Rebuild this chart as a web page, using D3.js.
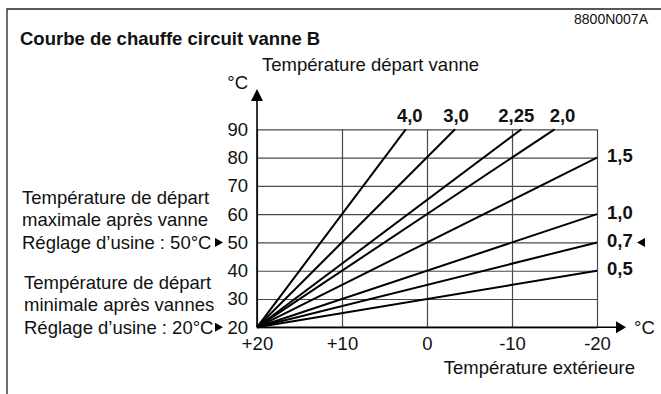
<!DOCTYPE html>
<html>
<head>
<meta charset="utf-8">
<script src="https://cdn.jsdelivr.net/npm/d3@7"></script>
<style>
  html, body { margin: 0; padding: 0; background: #fff; }
  svg { display: block; }
  text { font-family: "Liberation Sans", Arial, Helvetica, sans-serif; fill: #111; }
</style>
</head>
<body>
<svg id="chart" width="661" height="394"></svg>
<script>
// Outdoor temperature axis (°C), reversed: warm on the left, cold on the right
const outdoorTicks = [20, 10, 0, -10, -20];
const outdoorTickLabels = ["+20", "+10", "0", "-10", "-20"];
// Flow temperature axis (°C)
const flowTicks = [20, 30, 40, 50, 60, 70, 80, 90];

// Heating curves: all start at (+20 °C outdoor, 20 °C flow)
const curveStart = [20, 20];
const curveNames = ["4,0", "3,0", "2,25", "2,0", "1,5", "1,0", "0,7", "0,5"];
const curveEndOutdoor = [2.5, -3.3, -11.1, -15, -20, -20, -20, -20];
const curveEndFlow = [90, 90, 90, 90, 80, 60, 50, 40];

const FS = 18.5;
const svg = d3.select("#chart");

const x = d3.scaleLinear().domain([20, -20]).range([257, 597]);
const y = d3.scaleLinear().domain([20, 90]).range([327.3, 129.3]);

// Partial frame (top and left edges)
svg.append("path")
  .attr("d", "M7,394 V9 H661")
  .attr("fill", "none")
  .attr("stroke", "#222")
  .attr("stroke-width", 1.3);

// Title and reference code
svg.append("text").attr("x", 20).attr("y", 45)
  .attr("font-size", FS).attr("font-weight", "bold")
  .text("Courbe de chauffe circuit vanne B");
svg.append("text").attr("x", 648).attr("y", 24)
  .attr("font-size", 14).attr("text-anchor", "end")
  .text("8800N007A");

// Grid + tick labels from the axes
const gridColor = "#4a4a4a";
const yAxis = d3.axisLeft(y)
  .tickValues(flowTicks)
  .tickSize(-(x(-20) - x(20)))
  .tickPadding(9);
const gy = svg.append("g").attr("transform", `translate(${x(20)},0)`).call(yAxis);
gy.select(".domain").remove();
gy.selectAll(".tick line").attr("stroke", gridColor).attr("stroke-width", 1.2);
gy.selectAll(".tick text")
  .attr("font-size", FS)
  .attr("font-family", "'Liberation Sans', Arial, Helvetica, sans-serif")
  .attr("fill", "#111");

const xAxis = d3.axisBottom(x)
  .tickValues(outdoorTicks)
  .tickFormat((d, i) => outdoorTickLabels[i])
  .tickSize(-(y(20) - y(90)))
  .tickPadding(10);
const gx = svg.append("g").attr("transform", `translate(0,${y(20)})`).call(xAxis);
gx.select(".domain").remove();
gx.selectAll(".tick line").attr("stroke", gridColor).attr("stroke-width", 1.2);
gx.selectAll(".tick text")
  .attr("font-size", FS)
  .attr("font-family", "'Liberation Sans', Arial, Helvetica, sans-serif")
  .attr("fill", "#111");

// Axis lines with arrowheads
const x0 = x(20), y0 = y(20);
svg.append("line").attr("x1", x0).attr("y1", y0).attr("x2", x0).attr("y2", 100)
  .attr("stroke", "#000").attr("stroke-width", 1.6);
svg.append("path").attr("d", `M${x0},89 L${x0 - 6},101 L${x0 + 6},101 Z`).attr("fill", "#000");
svg.append("line").attr("x1", x0).attr("y1", y0).attr("x2", 617).attr("y2", y0)
  .attr("stroke", "#000").attr("stroke-width", 1.6);
svg.append("path").attr("d", `M626,${y0} L616,${y0 - 6} L616,${y0 + 6} Z`).attr("fill", "#000");

// Axis titles
svg.append("text").attr("x", 248).attr("y", 89).attr("font-size", FS)
  .attr("text-anchor", "end").text("°C");
svg.append("text").attr("x", 262).attr("y", 71).attr("font-size", FS)
  .text("Température départ vanne");
svg.append("text").attr("x", 634).attr("y", y0 + 6.5).attr("font-size", FS)
  .text("°C");
svg.append("text").attr("x", 635).attr("y", 374).attr("font-size", FS)
  .attr("text-anchor", "end").text("Température extérieure");

// Heating curves
const curves = curveNames.map((name, i) => ({
  name,
  points: [curveStart, [curveEndOutdoor[i], curveEndFlow[i]]]
}));
const line = d3.line().x(d => x(d[0])).y(d => y(d[1]));
svg.append("g").selectAll("path").data(curves).join("path")
  .attr("d", d => line(d.points))
  .attr("fill", "none")
  .attr("stroke", "#000")
  .attr("stroke-width", 2);

// Curve labels: above the top for steep curves, right of the frame otherwise
const topOffsets = [4, 1, -5, 8];
curves.forEach((c, i) => {
  const end = c.points[1];
  const t = svg.append("text").attr("font-size", FS).attr("font-weight", "bold").text(c.name);
  if (end[1] >= 90) {
    t.attr("x", x(end[0]) + topOffsets[i]).attr("y", 122).attr("text-anchor", "middle");
  } else {
    t.attr("x", 607).attr("y", y(end[1]) + 4.5);
  }
});
// Factory setting marker next to curve 0,7
const i07 = curveNames.indexOf("0,7");
const m07 = y(curveEndFlow[i07]);
svg.append("path").attr("d", `M637,${m07} L645,${m07 - 4.5} L645,${m07 + 4.5} Z`).attr("fill", "#000");

// Left annotations for the flow temperature limits
const noteMax = ["Température de départ", "maximale après vanne", "Réglage d’usine : 50°C"];
const noteMin = ["Température de départ", "minimale après vannes", "Réglage d’usine : 20°C"];
function note(lines, x0n, baseValue) {
  const base = y(baseValue) + 6.5;
  lines.forEach((s, k) => {
    svg.append("text").attr("x", x0n).attr("y", base - (lines.length - 1 - k) * 22.5)
      .attr("font-size", FS).text(s);
  });
  const cy = y(baseValue);
  svg.append("path").attr("d", `M223,${cy} L215,${cy - 4.5} L215,${cy + 4.5} Z`).attr("fill", "#000");
}
note(noteMax, 22, 50);
note(noteMin, 24, 20);
</script>
</body>
</html>
